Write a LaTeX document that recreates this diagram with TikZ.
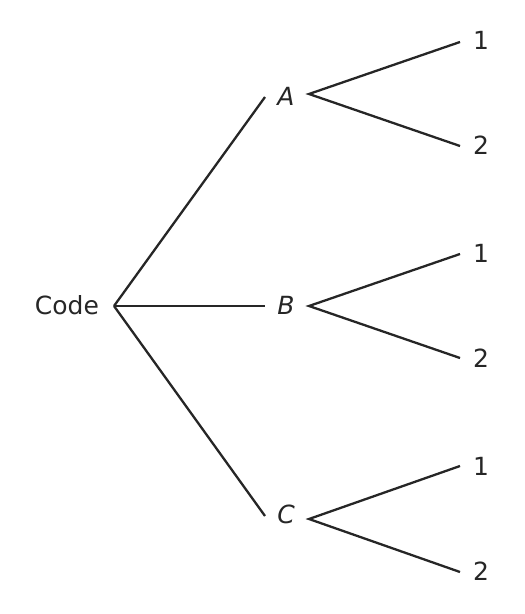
\documentclass[tikz,border=0pt]{standalone}
\usepackage{fontspec}
\setmainfont{DejaVu Sans}
\definecolor{ink}{HTML}{262626}
\begin{document}
\begin{tikzpicture}[x=0.5pt,y=-0.5pt,
  lbl/.style={inner sep=0pt,text=ink,font=\fontsize{12.5}{14}\selectfont},
  edge/.style={draw=ink,line width=1.15pt}]
\useasboundingbox (0,0) rectangle (524,614);
% labels
\node[lbl] (code) at (67,305) {Code};
\node[lbl] (A) at (286,96) {\itshape A};
\node[lbl] (B) at (286,305) {\itshape B};
\node[lbl] (C) at (286,514) {\itshape C};
\node[lbl] (A1) at (481,40) {1};
\node[lbl] (A2) at (481,145) {2};
\node[lbl] (B1) at (481,253) {1};
\node[lbl] (B2) at (481,358) {2};
\node[lbl] (C1) at (481,466) {1};
\node[lbl] (C2) at (481,571) {2};
% connector ends
\coordinate (r) at (114,306);
\coordinate (ain) at (265,97);
\coordinate (bin) at (265,306);
\coordinate (cin) at (265,516);
\coordinate (aout) at (309,94);
\coordinate (bout) at (309,306);
\coordinate (cout) at (309,519);
\coordinate (a1) at (460,42);
\coordinate (a2) at (460,146);
\coordinate (b1) at (460,254);
\coordinate (b2) at (460,358);
\coordinate (c1) at (460,466);
\coordinate (c2) at (460,572);
\draw[edge] (r) -- (ain);
\draw[edge] (r) -- (bin);
\draw[edge] (r) -- (cin);
\draw[edge] (a1) -- (aout) -- (a2);
\draw[edge] (b1) -- (bout) -- (b2);
\draw[edge] (c1) -- (cout) -- (c2);
\end{tikzpicture}
\end{document}
